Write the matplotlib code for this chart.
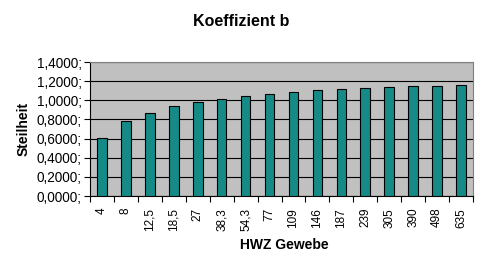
import numpy as np
import matplotlib
matplotlib.use("Agg")
import matplotlib.pyplot as plt

# data
categories = ["4", "8", "12,5", "18,5", "27", "38,3", "54,3", "77", "109",
              "146", "187", "239", "305", "390", "498", "635"]
steilheit = [0.604, 0.786, 0.869, 0.943, 0.978, 1.016, 1.047, 1.068, 1.089,
             1.110, 1.121, 1.131, 1.142, 1.152, 1.152, 1.163]
yticks = [0.0, 0.2, 0.4, 0.6, 0.8, 1.0, 1.2, 1.4]

plt.rcParams['font.family'] = ['Liberation Sans', 'DejaVu Sans']

fig = plt.figure(figsize=(4.78, 2.66), dpi=100)
ax = fig.add_axes([90/478, 1 - 196/266, 383/478, 134/266])
ax.set_facecolor('#c0c0c0')

x = np.arange(len(categories))
ax.bar(x, steilheit, width=0.4, color='#168a86', edgecolor='black', linewidth=0.8, zorder=3)

ax.set_xlim(-0.5, len(categories) - 0.5)
ax.set_ylim(0, 1.4)
ax.set_yticks(yticks)
ax.set_yticklabels([f"{v:.4f};".replace('.', ',') for v in yticks], fontsize=9.8)
ax.yaxis.grid(True, color='black', linewidth=0.8, zorder=1)

# category labels centred, tick marks between categories
ax.set_xticks(x)
ax.set_xticklabels(categories, rotation=90, fontsize=8.5)
ax.tick_params(axis='x', length=0, pad=8.5)
ax.set_xticks(np.arange(len(categories) + 1) - 0.5, minor=True)
ax.tick_params(axis='x', which='minor', length=4, direction='out', width=0.8)
ax.tick_params(axis='y', length=4, direction='out', width=0.8, pad=2)

for side in ['top', 'right']:
    ax.spines[side].set_color('#808080')
for side in ['left', 'bottom']:
    ax.spines[side].set_color('black')
    ax.spines[side].set_linewidth(0.8)

fig.text(0.5 * (90 + 473) / 478 + 0.005, 1 - 245/266, "HWZ Gewebe", ha='center', va='center',
         fontsize=10, fontweight='bold')
fig.text(24/478, 1 - 129/266, "Steilheit", ha='center', va='center', rotation=90,
         fontsize=10, fontweight='bold')
fig.text(241/478, 1 - 21/266, "Koeffizient b", ha='center', va='center', fontsize=11.5, fontweight='bold')

fig.savefig("out.png", dpi=100)
